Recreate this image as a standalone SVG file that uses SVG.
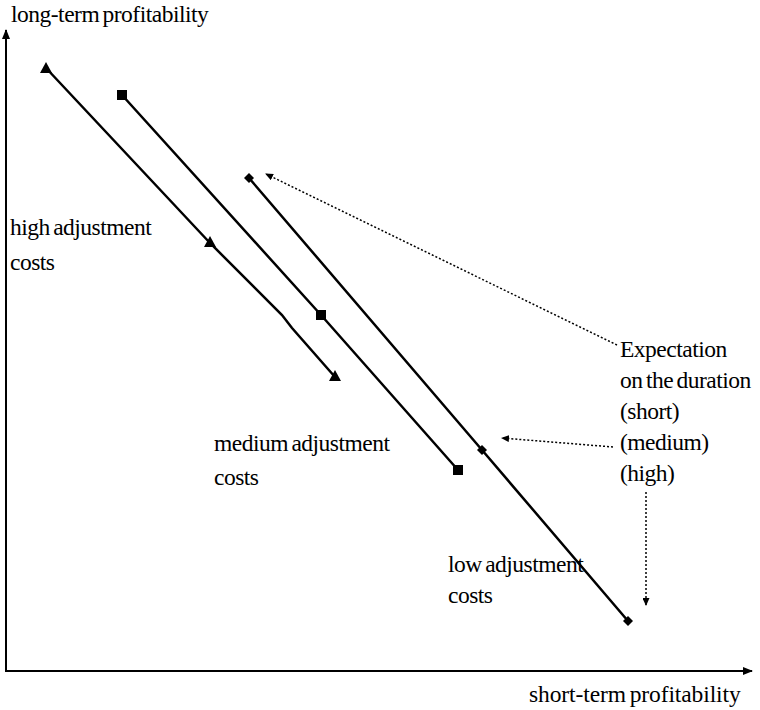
<svg xmlns="http://www.w3.org/2000/svg" width="760" height="710" viewBox="0 0 760 710">
<style>
text{font-family:"Liberation Serif","Times New Roman",serif;font-size:23.5px;fill:#000;letter-spacing:-0.5px;word-spacing:-2px}
.ln{fill:none;stroke:#000;stroke-width:2.5}
.ax{fill:none;stroke:#000;stroke-width:2}
.dot{fill:none;stroke:#000;stroke-width:1.5;stroke-dasharray:2 2}
</style>
<defs>
<marker id="ah" markerWidth="10" markerHeight="8" refX="9" refY="4" orient="auto" markerUnits="userSpaceOnUse"><path d="M0,0 L10,4 L0,8 Z" fill="#000"/></marker>
<marker id="ad" markerWidth="8" markerHeight="7" refX="7" refY="3.5" orient="auto" markerUnits="userSpaceOnUse"><path d="M0,0 L8,3.5 L0,7 Z" fill="#000"/></marker>
<path id="tri" d="M0,-6 L6,5 L-6,5 Z" fill="#000"/>
<rect id="sq" x="-5" y="-5" width="10" height="10" fill="#000"/>
<path id="dia" d="M0,-5 L5,0 L0,5 L-5,0 Z" fill="#000"/>
</defs>
<g id="axes">
<line class="ax" x1="6" y1="672" x2="6" y2="30" marker-end="url(#ah)"/>
<line class="ax" x1="5" y1="671" x2="752" y2="671" marker-end="url(#ah)"/>
</g>
<g id="connectors">
<polyline class="ln" points="46,68 210,243 282,315 292,328 335,377"/>
<polyline class="ln" points="122,95 321,315 458,470"/>
<polyline class="ln" points="249,178 482,450 628,621"/>
<line class="dot" x1="617" y1="345" x2="266" y2="174" marker-end="url(#ad)"/>
<line class="dot" x1="613" y1="447" x2="502" y2="438" marker-end="url(#ad)"/>
<line class="dot" x1="646" y1="492" x2="646" y2="605" marker-end="url(#ad)"/>
</g>
<g id="high-line">
<use href="#tri" x="46" y="68"/>
<use href="#tri" x="210" y="242"/>
<use href="#tri" x="335" y="376"/>
</g>
<g id="medium-line">
<use href="#sq" x="122" y="95"/>
<use href="#sq" x="321" y="315"/>
<use href="#sq" x="458" y="470"/>
</g>
<g id="low-line">
<use href="#dia" x="249" y="178"/>
<use href="#dia" x="482" y="450"/>
<use href="#dia" x="628" y="621"/>
</g>
<g id="labels">
<text x="11" y="22">long-term profitability</text>
<text x="529" y="702" style="letter-spacing:-0.1px">short-term profitability</text>
<text x="10" y="235">high adjustment</text>
<text x="10" y="270">costs</text>
<text x="214" y="451">medium adjustment</text>
<text x="214" y="485">costs</text>
<text x="448" y="572">low adjustment</text>
<text x="448" y="603">costs</text>
</g>
<g id="legend">
<text x="620" y="357">Expectation</text>
<text x="620" y="388">on the duration</text>
<text x="620" y="419">(short)</text>
<text x="620" y="450">(medium)</text>
<text x="620" y="481">(high)</text>
</g>
</svg>
